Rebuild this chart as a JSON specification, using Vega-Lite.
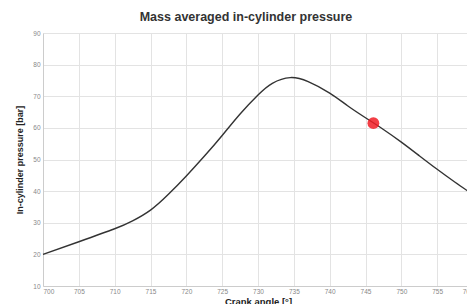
{
  "$schema": "https://vega.github.io/schema/vega-lite/v6.json",
  "autosize": "none",
  "padding": {"left": 43, "top": 33, "right": 0, "bottom": 18},
  "width": 430,
  "height": 253,
  "background": "white",
  "config": {
    "font": "Liberation Sans",
    "view": {"stroke": null}
  },
  "title": {
    "text": "Mass averaged in-cylinder pressure",
    "font": "Liberation Sans",
    "fontSize": 12.5,
    "fontWeight": "bold",
    "color": "#333333",
    "anchor": "middle",
    "dx": -12,
    "offset": 7
  },
  "datasets": {
    "curve": [
      {"angle": 700, "pressure": 20.0},
      {"angle": 705, "pressure": 24.0},
      {"angle": 710, "pressure": 28.1},
      {"angle": 712.5, "pressure": 30.6},
      {"angle": 715, "pressure": 34.0},
      {"angle": 717.5, "pressure": 39.0},
      {"angle": 720, "pressure": 44.8},
      {"angle": 722.5, "pressure": 51.0},
      {"angle": 725, "pressure": 57.6},
      {"angle": 727.5, "pressure": 64.4},
      {"angle": 730, "pressure": 70.4},
      {"angle": 732, "pressure": 74.1},
      {"angle": 734.5, "pressure": 75.9},
      {"angle": 737, "pressure": 74.6},
      {"angle": 740, "pressure": 71.0},
      {"angle": 742.5, "pressure": 67.0},
      {"angle": 745, "pressure": 63.2},
      {"angle": 747.5, "pressure": 59.5},
      {"angle": 750, "pressure": 55.5},
      {"angle": 752.5, "pressure": 51.2},
      {"angle": 755, "pressure": 46.9},
      {"angle": 757.5, "pressure": 42.8},
      {"angle": 760, "pressure": 38.9}
    ],
    "marker": [
      {"angle": 746.1, "pressure": 61.5}
    ]
  },
  "encoding": {
    "x": {
      "field": "angle",
      "type": "quantitative",
      "scale": {"domain": [700, 760], "nice": false},
      "axis": {
        "title": "Crank angle [°]",
        "titleFont": "Liberation Sans",
        "titleFontSize": 9.5,
        "titleFontWeight": "bold",
        "titleColor": "#222222",
        "titlePadding": 2,
        "tickCount": 30,
        "values": [700, 705, 710, 715, 720, 725, 730, 735, 740, 745, 750, 755, 760],
        "labelFontSize": 6.5,
        "labelColor": "#888888",
        "labelPadding": 2,
        "labelOverlap": false,
        "ticks": false,
        "domainColor": "#cccccc",
        "gridColor": "#e3e3e3",
        "grid": true
      }
    },
    "y": {
      "field": "pressure",
      "type": "quantitative",
      "scale": {"domain": [10, 90], "nice": false},
      "axis": {
        "title": "In-cylinder pressure [bar]",
        "titleFont": "Liberation Sans",
        "titleFontSize": 9,
        "titleFontWeight": "bold",
        "titleColor": "#222222",
        "titlePadding": 8,
        "tickCount": 30,
        "values": [10, 20, 30, 40, 50, 60, 70, 80, 90],
        "labelFontSize": 6.5,
        "labelColor": "#888888",
        "labelPadding": 3,
        "labelOverlap": false,
        "ticks": false,
        "domainColor": "#cccccc",
        "gridColor": "#e3e3e3",
        "grid": true
      }
    }
  },
  "layer": [
    {
      "data": {"name": "curve"},
      "mark": {"type": "line", "interpolate": "natural", "color": "#333333", "strokeWidth": 1.4}
    },
    {
      "data": {"name": "marker"},
      "mark": {"type": "point", "filled": true, "color": "#f01c24", "opacity": 0.85, "size": 140}
    }
  ]
}
